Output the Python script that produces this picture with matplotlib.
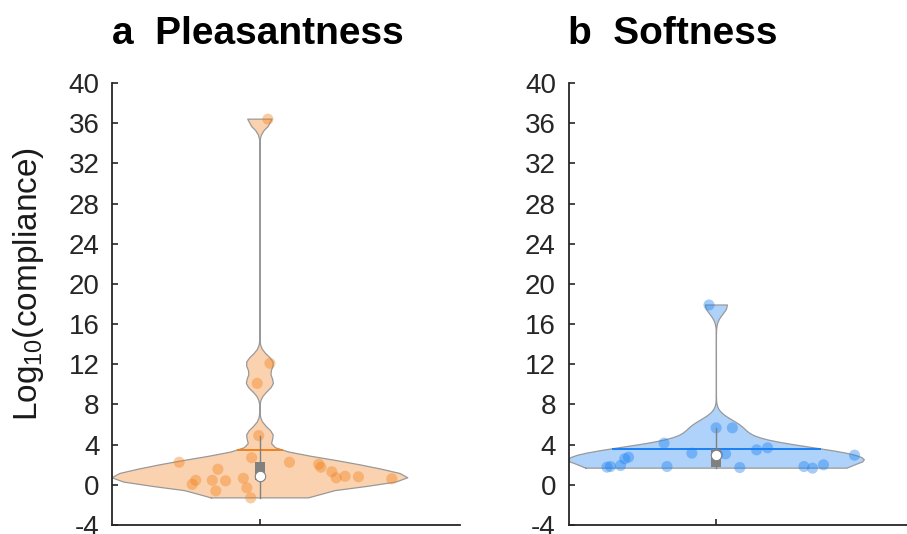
import numpy as np
import matplotlib
matplotlib.use('Agg')
import matplotlib.pyplot as plt
from matplotlib.patches import Rectangle

plt.rcParams['font.family'] = ['Liberation Sans', 'DejaVu Sans']
plt.rcParams['mathtext.default'] = 'regular'
plt.rcParams['axes.unicode_minus'] = False

# Log10(compliance) per participant, with the horizontal jitter used for the dots
pleasant_vals = [36.4, 12.1, 10.1, 4.9, 2.7, 2.25, 1.55, 2.25, 2.05, 1.75, 1.3, 0.7,
                 0.85, 0.8, 0.6, 0.45, 0.05, 0.45, 0.4, -0.6, 0.65, -0.3, -1.3]
pleasant_jit = [0.027, 0.034, -0.009, -0.004, -0.028, -0.273, -0.142, 0.100, 0.199, 0.206,
                0.243, 0.258, 0.288, 0.333, 0.446, -0.217, -0.229, -0.161, -0.116, -0.149,
                -0.056, -0.044, -0.031]

soft_vals = [17.9, 5.67, 5.67, 4.15, 3.15, 3.08, 3.48, 3.68, 2.95, 2.75, 2.59, 1.92,
             1.76, 1.82, 1.82, 1.72, 1.82, 1.66, 1.99, 2.95, 3.0]
soft_jit = [-0.025, -0.001, 0.054, -0.177, -0.083, 0.031, 0.136, 0.173, 0.467, -0.297,
            -0.310, -0.324, -0.370, -0.358, -0.167, 0.079, 0.296, 0.325, 0.362, 0.0, 0.004]

titles = ['a  Pleasantness', 'b  Softness']
yticks = list(range(-4, 41, 4))

orange = (0.95, 0.5, 0.1)
blue = (0.1, 0.5, 0.95)


def kde_shape(y):
    # ksdensity-like estimate: normal kernel, Silverman bandwidth from the MAD
    y = np.asarray(y, float)
    n = len(y)
    sig = np.median(np.abs(y - np.median(y))) / 0.6745
    bw = sig * (4 / (3 * n)) ** 0.2
    grid = np.linspace(y.min() - 3 * bw, y.max() + 3 * bw, 100)
    dens = np.exp(-0.5 * ((grid[:, None] - y[None, :]) / bw) ** 2).sum(1) / (n * bw * np.sqrt(2 * np.pi))
    keep = (grid >= y.min()) & (grid <= y.max())
    vals = grid[keep]
    dens = dens[keep]
    vals[0] = y.min()
    vals[-1] = y.max()
    return vals, dens


def draw_violin(ax, y, jit, color, width=0.5):
    y = np.asarray(y, float)
    vals, dens = kde_shape(y)
    half = dens / dens.max() * width
    xs = np.concatenate([1 - half, (1 + half)[::-1]])
    ys = np.concatenate([vals, vals[::-1]])
    ax.fill(xs, ys, facecolor=color, alpha=0.35, edgecolor='none', zorder=1)
    ax.plot(np.append(xs, xs[0]), np.append(ys, ys[0]), color=(0.6, 0.6, 0.6), lw=0.9, zorder=2)

    # jittered data points
    ax.scatter(1 + np.asarray(jit), y, s=64, color=color, alpha=0.4, edgecolors='none', zorder=3)

    # mean line across the violin
    m = y.mean()
    w = np.interp(m, vals, half)
    ax.plot([1 - w, 1 + w], [m, m], color=color, lw=1.4, zorder=4)

    # box, whiskers and median
    q1, med, q3 = np.percentile(y, [25, 50, 75], method='hazen')
    iqr = q3 - q1
    lo = y[y >= q1 - 1.5 * iqr].min()
    hi = y[y <= q3 + 1.5 * iqr].max()
    gray = (0.5, 0.5, 0.5)
    ax.plot([1, 1], [lo, hi], color=gray, lw=1.0, zorder=5)
    bw = 0.017
    ax.add_patch(Rectangle((1 - bw, q1), 2 * bw, q3 - q1, facecolor=gray, edgecolor='none', zorder=6))
    ax.plot([1], [med], marker='o', ms=7.5, mfc='white', mec=gray, mew=0.8, zorder=7)


fig = plt.figure(figsize=(9.07, 5.34), dpi=100)
ax_w = 348 / 907
ax_h = 442 / 534
ax_b = 9 / 534
axes = [fig.add_axes([112 / 907, ax_b, ax_w, ax_h]),
        fig.add_axes([568.5 / 907, ax_b, ax_w, ax_h])]

data = [(pleasant_vals, pleasant_jit, orange), (soft_vals, soft_jit, blue)]
for ax, (vals, jit, col), title in zip(axes, data, titles):
    draw_violin(ax, vals, jit, col)
    ax.set_xlim(0.5, 0.5 + 1 / 0.425 * 0.5)
    ax.set_ylim(-4, 40)
    ax.set_yticks(yticks)
    ax.set_xticks([1])
    ax.set_xticklabels([])
    for side in ('top', 'right'):
        ax.spines[side].set_visible(False)
    for side in ('left', 'bottom'):
        ax.spines[side].set_color('#262626')
        ax.spines[side].set_linewidth(1.3)
    ax.tick_params(direction='in', length=4, width=1.2, color='#262626',
                   labelsize=20, labelcolor='#262626', pad=9)
    ax.text(0, 1 + 39 / 442, title, transform=ax.transAxes, fontsize=28,
            fontweight='bold', ha='left', va='baseline')

axes[0].set_ylabel('Log$_{10}$(compliance)', fontsize=24, color='#1a1a1a')
axes[0].yaxis.set_label_coords(-0.19, 0.546)

fig.savefig('out.png', dpi=100)
